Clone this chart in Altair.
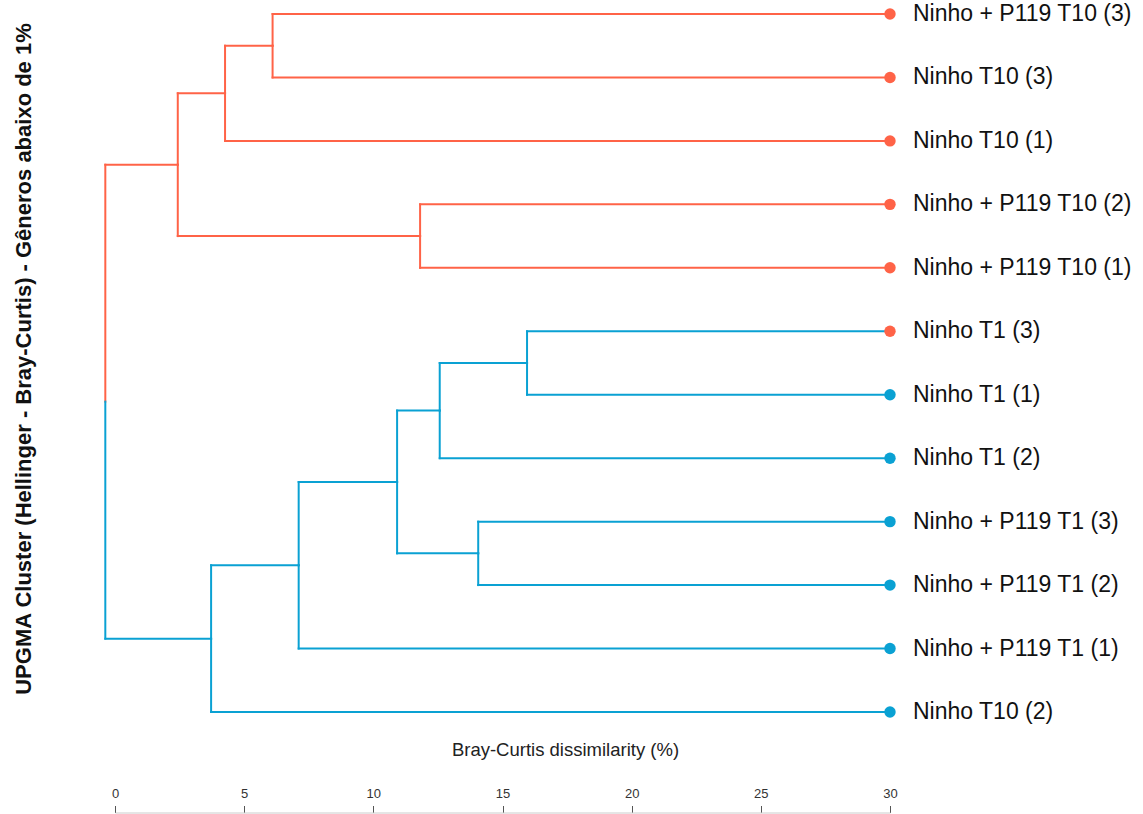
import altair as alt
import pandas as pd

# ---- data ----
leaf_labels = [
    "Ninho + P119 T10 (3)", "Ninho T10 (3)", "Ninho T10 (1)",
    "Ninho + P119 T10 (2)", "Ninho + P119 T10 (1)", "Ninho T1 (3)",
    "Ninho T1 (1)", "Ninho T1 (2)", "Ninho + P119 T1 (3)",
    "Ninho + P119 T1 (2)", "Ninho + P119 T1 (1)", "Ninho T10 (2)",
]
leaf_group = ["A", "A", "A", "A", "A", "A", "B", "B", "B", "B", "B", "B"]      # dot colour
leaf_cluster = ["A", "A", "A", "A", "A", "B", "B", "B", "B", "B", "B", "B"]    # branch colour
leaf_position = 30  # leaves sit at 30 on the dissimilarity axis

# hclust-style merge table: negative = leaf (1-based), positive = earlier merge step
merge_left = [-1, 1, -4, 2, -6, 5, -9, 6, 8, 9, 4]
merge_right = [-2, -3, -5, 3, -7, -8, -10, 7, -11, -12, 10]
merge_height = [6.10, 4.26, 11.81, 2.43, 15.95, 12.57, 14.06, 10.92, 7.11, 3.72, -0.375]

tick_values = [0, 5, 10, 15, 20, 25, 30]

ORANGE = "#FF6347"
BLUE = "#0AA1D3"

# ---- build dendrogram segments from the merge table ----
node_info = {}


def info(c):
    if c < 0:
        i = -c - 1
        return float(i), float(leaf_position), leaf_cluster[i]
    return node_info[c]


segs = []
for k, (l, r, h) in enumerate(zip(merge_left, merge_right, merge_height), start=1):
    ly, lx, lc = info(l)
    ry, rx, rc = info(r)
    ny = (ly + ry) / 2.0
    for cy, cx, cc in [(ly, lx, lc), (ry, rx, rc)]:
        segs.append({"x": h, "x2": cx, "y": cy, "y2": cy, "col": cc})
        segs.append({"x": h, "x2": h, "y": cy, "y2": ny, "col": cc})
    ncol = lc if lc == rc else "mixed"
    node_info[k] = (ny, h, ncol)

seg_df = pd.DataFrame(segs)
leaf_df = pd.DataFrame({
    "label": leaf_labels,
    "y": list(range(len(leaf_labels))),
    "x": [leaf_position] * len(leaf_labels),
    "grp": leaf_group,
})

color_scale = alt.Scale(domain=["A", "B"], range=[ORANGE, BLUE])

x_enc = alt.X(
    "x:Q",
    scale=alt.Scale(domain=[0, 30], nice=False, zero=False),
    axis=alt.Axis(
        orient="top",
        offset=-798.5,
        values=tick_values,
        grid=False,
        tickSize=7,
        tickColor="#555555",
        domainColor="#cccccc",
        labelFontSize=13,
        labelColor="#333333",
        labelBaseline="alphabetic",
        labelPadding=8.5,
        labelFlush=False,
        labelAlign="center",
        title="Bray-Curtis dissimilarity (%)",
        titleFontSize=18.5,
        titleFontWeight="normal",
        titleColor="#222222",
        titleBaseline="alphabetic",
        titleAlign="center",
        titleX=450,
        titleY=-57,
    ),
)
y_enc = alt.Y(
    "y:Q",
    scale=alt.Scale(domain=[0, 11], reverse=True, nice=False, zero=False),
    axis=alt.Axis(
        labels=False, ticks=False, domain=False, grid=False,
        title="UPGMA Cluster (Hellinger - Bray-Curtis) - Gêneros abaixo de 1%",
        titleFontSize=22,
        titleFontWeight="bold",
        titleColor="#111111",
        titleAngle=270,
        titleBaseline="alphabetic",
        titleAlign="center",
        titleX=-85,
        titleY=344.5,
    ),
)

rules = alt.Chart(seg_df).mark_rule(strokeWidth=2, strokeCap="square").encode(
    x=x_enc,
    x2="x2:Q",
    y=y_enc,
    y2="y2:Q",
    color=alt.Color("col:N", scale=color_scale, legend=None),
)

dots = alt.Chart(leaf_df).mark_circle(size=130, opacity=1).encode(
    x=x_enc,
    y=y_enc,
    color=alt.Color("grp:N", scale=color_scale, legend=None),
)

labels = alt.Chart(leaf_df).mark_text(
    align="left", baseline="middle", dx=23, fontSize=23, color="#111111",
    font="Liberation Sans",
).encode(
    x=x_enc,
    y=y_enc,
    text="label:N",
)

chart = alt.layer(rules, dots, labels).properties(
    width=775,
    height=698,
    autosize=alt.AutoSizeParams(type="none"),
    padding={"left": 115, "top": 14, "right": 253, "bottom": 102},
).configure(
    font="Liberation Sans",
).configure_view(stroke=None)

chart.save("out.html", embed_options={"renderer": "svg", "actions": False})
